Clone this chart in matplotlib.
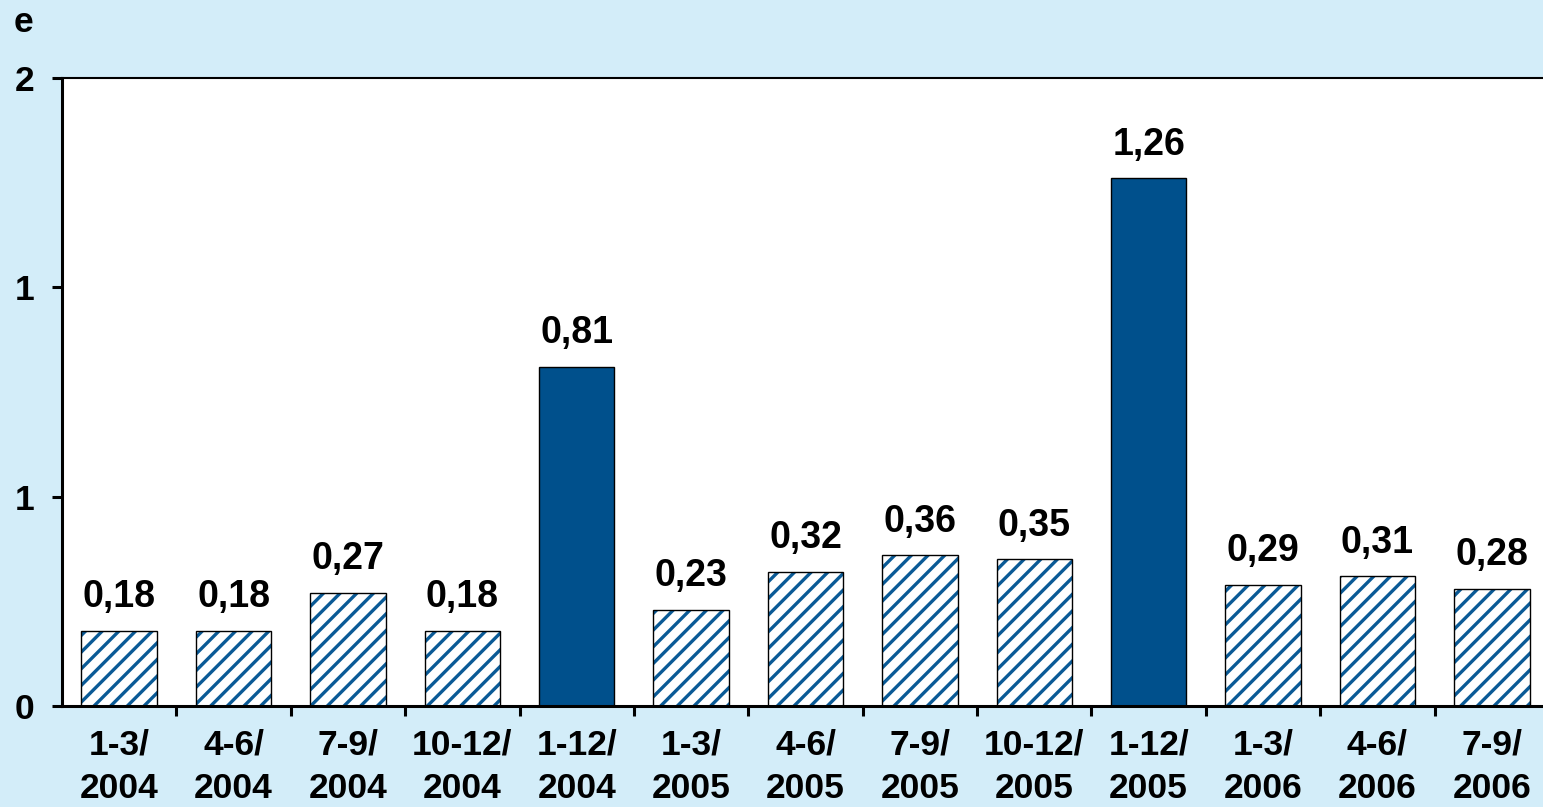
import numpy as np
import matplotlib.pyplot as plt

cats = ["1-3/\n2004", "4-6/\n2004", "7-9/\n2004", "10-12/\n2004", "1-12/\n2004",
        "1-3/\n2005", "4-6/\n2005", "7-9/\n2005", "10-12/\n2005", "1-12/\n2005",
        "1-3/\n2006", "4-6/\n2006", "7-9/\n2006"]
vals = [0.18, 0.18, 0.27, 0.18, 0.81, 0.23, 0.32, 0.36, 0.35, 1.26, 0.29, 0.31, 0.28]
yearly = [False, False, False, False, True, False, False, False, False, True, False, False, False]
yticks = [0, 0.5, 1, 1.5]
ylabels = ["0", "1", "1", "2"]

bg = "#D3EDF9"
dark = "#00508C"
hatch_col = "#0A5A96"
fs = 25.5

plt.rcParams['font.family'] = ['Liberation Sans', 'DejaVu Sans']
plt.rcParams['font.weight'] = 'bold'
plt.rcParams['hatch.linewidth'] = 2.4

fig = plt.figure(figsize=(15.43, 8.07), dpi=100, facecolor=bg)
ax = fig.add_axes([62 / 1543, 101 / 807, 1487 / 1543, 628 / 807])
ax.set_facecolor("white")

x = np.arange(len(vals))
for i in range(len(vals)):
    if yearly[i]:
        ax.bar(x[i], vals[i], width=0.66, color=dark, edgecolor="black", linewidth=1)
    else:
        # hatch drawn in blue, outline in black on top
        ax.bar(x[i], vals[i], width=0.66, color="white", edgecolor=hatch_col,
               linewidth=0, hatch="//")
        ax.bar(x[i], vals[i], width=0.66, fill=False, edgecolor="black", linewidth=1)
    ax.annotate(("%.2f" % vals[i]).replace(".", ","), (x[i], vals[i]),
                xytext=(0, 17), textcoords="offset points", ha="center",
                va="baseline", fontsize=27, fontweight="bold")

ax.set_xlim(-0.5, len(vals) - 0.5)
ax.set_ylim(0, 1.5)
ax.set_yticks(yticks)
ax.set_yticklabels(ylabels, fontsize=fs, fontweight="bold")
ax.set_xticks(x)
ax.set_xticklabels(cats, fontsize=fs, fontweight="bold", linespacing=1.4)
ax.set_xticks(np.arange(0.5, len(vals) - 0.5, 1), minor=True)
ax.tick_params(axis="x", which="major", length=0, pad=16)
ax.tick_params(axis="x", which="minor", length=7, width=2.2, direction="out")
ax.tick_params(axis="y", length=7, width=2.2, direction="out", pad=13)

for s in ["left", "bottom"]:
    ax.spines[s].set_linewidth(2.2)
ax.spines["top"].set_linewidth(1.5)
ax.spines["right"].set_visible(False)

fig.text(14 / 1543, 1 - 22 / 807, "e", fontsize=fs, fontweight="bold", va="center")

fig.savefig("out.png", dpi=100, facecolor=bg)
